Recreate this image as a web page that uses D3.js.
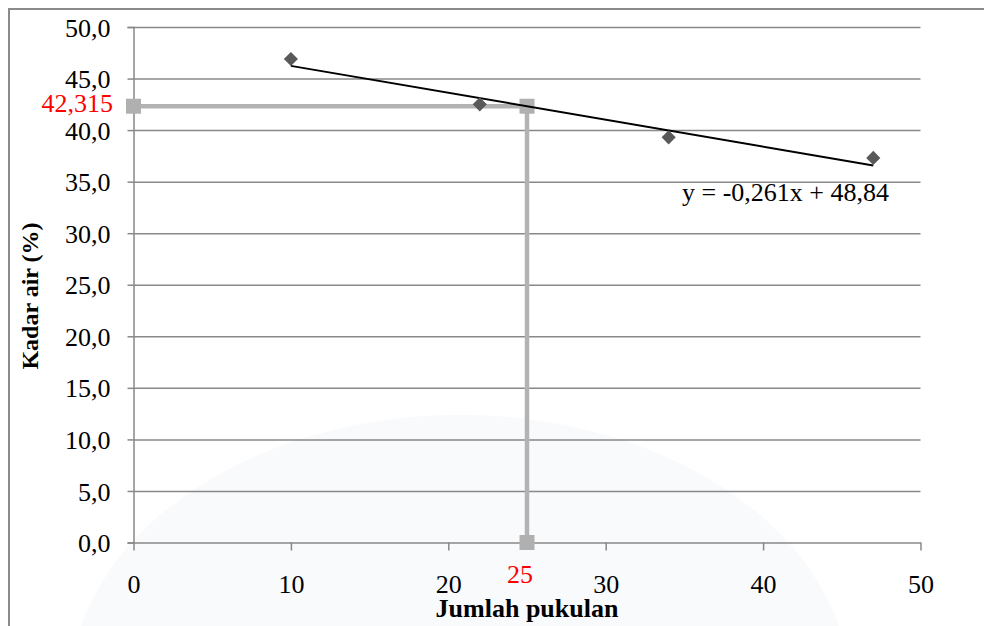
<!DOCTYPE html>
<html>

<head>
    <script type="text/javascript" src="https://cdnjs.cloudflare.com/ajax/libs/d3/7.8.5/d3.min.js"></script>
    <style>
        body {
            margin: 0;
            background: #fff;
            font-family: "Liberation Serif", "Times New Roman", serif;
        }
    </style>
</head>

<body>
    <div id="svgcontainer"></div>
    <script>
        var width = 984;
        var height = 626;

        // data
        var blows = [10, 22, 34, 47];
        var moisture = [46.9, 42.5, 39.3, 37.3];
        var trendSlope = -0.261;
        var trendIntercept = 48.84;
        var guideX = 25;
        var guideY = 42.315;
        var xTicks = [0, 10, 20, 30, 40, 50];
        var yTicks = [0, 5, 10, 15, 20, 25, 30, 35, 40, 45, 50];

        var svg = d3.select("#svgcontainer")
            .append("svg")
            .attr("width", width)
            .attr("height", height);

        var x = d3.scaleLinear().domain([0, 50]).range([133.5, 920.5]);
        var y = d3.scaleLinear().domain([0, 50]).range([542.5, 27]);

        // faint watermark behind the plot
        svg.append("ellipse")
            .attr("cx", 460).attr("cy", 692)
            .attr("rx", 390).attr("ry", 277)
            .attr("fill", "#f9fafc");

        // outer frame (top and left edges only are visible)
        svg.append("path")
            .attr("d", "M9,626 L9,9 L984,9")
            .attr("fill", "none")
            .attr("stroke", "#8a8a8a")
            .attr("stroke-width", 2);

        // y axis with gridlines
        var yAxis = svg.append("g")
            .attr("transform", "translate(" + x(0) + ",0)")
            .call(d3.axisLeft(y).tickValues(yTicks).tickSize(6).tickPadding(17)
                .tickFormat(function (d) { return d3.format(".1f")(d).replace(".", ","); }));
        yAxis.select(".domain").attr("stroke", "#888").attr("stroke-width", 1.5);
        yAxis.selectAll(".tick line").attr("stroke", "#888").attr("stroke-width", 1.5);
        yAxis.selectAll(".tick text")
            .attr("font-family", "Liberation Serif").attr("font-size", 26).attr("fill", "#000")
            .attr("dy", "0.35em");
        yAxis.selectAll(".tick").filter(function (d) { return d > 0; })
            .append("line")
            .attr("x1", 0).attr("x2", x(50) - x(0))
            .attr("stroke", "#888").attr("stroke-width", 1.5);

        // x axis
        var xAxis = svg.append("g")
            .attr("transform", "translate(0," + y(0) + ")")
            .call(d3.axisBottom(x).tickValues(xTicks).tickSize(8).tickPadding(25).tickSizeOuter(0));
        xAxis.select(".domain").attr("stroke", "#888").attr("stroke-width", 1.5);
        xAxis.selectAll(".tick line").attr("stroke", "#888").attr("stroke-width", 1.5);
        xAxis.selectAll(".tick text")
            .attr("font-family", "Liberation Serif").attr("font-size", 26).attr("fill", "#000")
            .attr("dy", 0).attr("y", 50);

        // guide lines to the value at 25 blows
        var guide = [[0, guideY], [guideX, guideY], [guideX, 0]];
        svg.append("path")
            .datum(guide)
            .attr("d", d3.line().x(function (d) { return x(d[0]); }).y(function (d) { return y(d[1]); }))
            .attr("fill", "none")
            .attr("stroke", "#b3b3b3")
            .attr("stroke-width", 4.5);
        svg.selectAll(".guidept")
            .data(guide)
            .enter().append("rect")
            .attr("class", "guidept")
            .attr("x", function (d) { return x(d[0]) - 7.5; })
            .attr("y", function (d) { return y(d[1]) - 7.5; })
            .attr("width", 15).attr("height", 15)
            .attr("fill", "#b0b0b0");

        // trend line
        var trendX = [d3.min(blows), d3.max(blows)];
        svg.append("line")
            .attr("x1", x(trendX[0])).attr("y1", y(trendSlope * trendX[0] + trendIntercept))
            .attr("x2", x(trendX[1])).attr("y2", y(trendSlope * trendX[1] + trendIntercept))
            .attr("stroke", "#000")
            .attr("stroke-width", 2);

        // data points (diamonds)
        svg.selectAll(".pt")
            .data(blows)
            .enter().append("path")
            .attr("class", "pt")
            .attr("d", d3.symbol().type(d3.symbolSquare).size(100))
            .attr("transform", function (d, i) {
                return "translate(" + x(d) + "," + y(moisture[i]) + ") rotate(45)";
            })
            .attr("fill", "#595959");

        // red guide labels
        svg.append("text")
            .attr("x", 113).attr("y", y(guideY) + 5.5)
            .attr("text-anchor", "end")
            .attr("font-size", 26).attr("fill", "#ff0000")
            .text(String(guideY).replace(".", ","));
        svg.append("text")
            .attr("x", x(guideX) - 7).attr("y", 583)
            .attr("text-anchor", "middle")
            .attr("font-size", 26).attr("fill", "#ff0000")
            .text(guideX);

        // equation
        svg.append("text")
            .attr("x", 682).attr("y", 201)
            .attr("font-size", 26).attr("fill", "#000")
            .text("y = " + String(trendSlope).replace(".", ",") + "x + " + String(trendIntercept).replace(".", ","));

        // axis titles
        svg.append("text")
            .attr("x", 527).attr("y", 617)
            .attr("text-anchor", "middle")
            .attr("font-size", 26).attr("font-weight", "bold")
            .text("Jumlah pukulan");
        svg.append("text")
            .attr("transform", "translate(38,296) rotate(-90)")
            .attr("text-anchor", "middle")
            .attr("font-size", 24).attr("font-weight", "bold")
            .text("Kadar air (%)");
    </script>
</body>

</html>
